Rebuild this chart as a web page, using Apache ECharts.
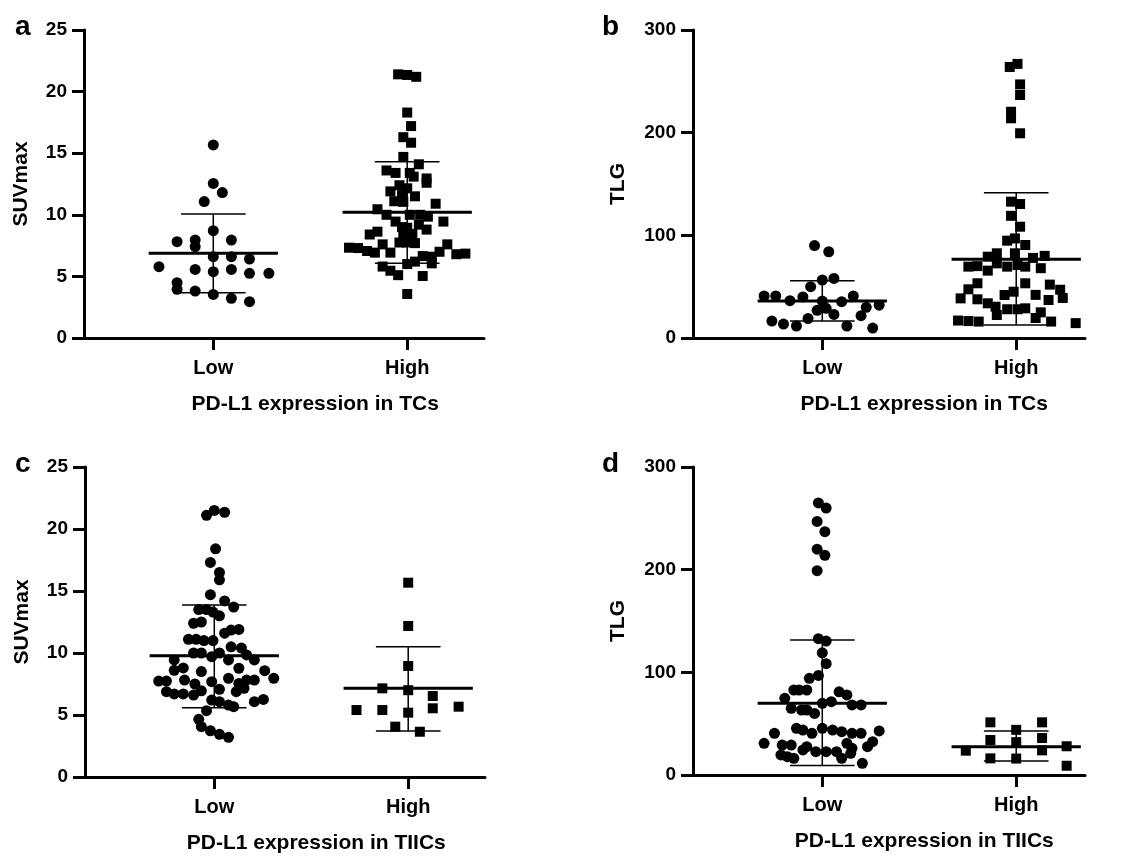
<!DOCTYPE html>
<html>
<head>
<meta charset="utf-8">
<script src="https://cdn.jsdelivr.net/npm/echarts@6/dist/echarts.min.js"></script>
<style>
html, body { margin: 0; background: #fff; }
#chart { width: 1138px; height: 858px; }
</style>
</head>
<body>
<div id="chart"></div>
<script>
// group positions on the x axis and their labels
const groupNames = ['Low', 'High'];
const groupPos = [1, 2.5];

// points as [offset from group centre, value]
const suvTCLow = [
    [0, 15.67], [0, 12.55], [0.07, 11.8], [-0.07, 11.07], [0, 8.71],
    [-0.28, 7.82], [-0.14, 7.95], [-0.14, 7.41], [0.14, 7.95],
    [0, 6.6], [0.14, 6.6], [0.28, 6.41],
    [-0.42, 5.79], [-0.14, 5.57], [0, 5.38], [0.14, 5.57], [0.28, 5.25], [0.43, 5.25],
    [-0.28, 4.49], [-0.28, 3.95], [-0.14, 3.81], [0, 3.54], [0.14, 3.22], [0.28, 2.95]
];
const suvTCHigh = [
    [-0.07, 21.4], [0, 21.35], [0.07, 21.2],
    [0, 18.3], [0.03, 17.2], [-0.03, 16.3], [0.03, 15.85], [-0.03, 14.7],
    [0.09, 14.1], [-0.16, 13.6], [-0.09, 13.4], [0.02, 13.4], [0.05, 13.1], [0.15, 12.95], [0.15, 12.6],
    [-0.06, 12.4], [-0.13, 11.9], [0, 12.15], [-0.04, 11.6], [0.06, 11.5], [-0.1, 11.1], [-0.03, 11.05], [0.22, 10.9],
    [-0.23, 10.45], [-0.16, 10.0], [-0.09, 9.45], [0.02, 10.0], [0.1, 10.0], [0.16, 9.85], [0.28, 9.45], [0.09, 9.2],
    [-0.04, 9.0], [0, 8.95], [0.15, 8.8], [-0.23, 8.63], [-0.29, 8.4], [-0.03, 8.5], [0.04, 8.45],
    [-0.06, 7.75], [0, 7.75], [0.06, 7.7], [-0.19, 7.6], [-0.45, 7.33], [-0.38, 7.3], [-0.31, 7.06],
    [-0.25, 6.93], [-0.13, 6.93],
    [0.31, 7.6], [0.25, 7.0], [0.19, 6.6], [0.12, 6.65], [0.38, 6.8], [0.45, 6.85],
    [0.06, 6.2], [0, 6.0], [-0.19, 5.8], [-0.13, 5.46], [-0.07, 5.1], [0.19, 6.06], [0.12, 5.03], [0, 3.57]
];
const tlgTCLow = [
    [-0.06, 90], [0.05, 84], [0, 56.5], [0.09, 58], [-0.09, 50],
    [-0.45, 40.9], [-0.36, 40.9], [-0.25, 36.4], [-0.15, 40], [0, 36], [0.15, 35.4], [0.24, 40.9],
    [0.44, 32], [0.34, 29.9], [0.03, 28.9], [-0.04, 27], [0.09, 23], [0.3, 21.7],
    [-0.39, 16.5], [-0.3, 13.6], [-0.11, 19], [-0.2, 11.7], [0.19, 11.7], [0.39, 9.7]
];
const tlgTCHigh = [
    [-0.05, 264], [0.01, 267], [0.03, 247], [0.03, 236.7], [-0.04, 220.4], [-0.04, 214], [0.03, 199.4],
    [-0.04, 132.8], [0.03, 130.5], [-0.04, 119], [0.03, 108.4], [-0.07, 94.8], [-0.01, 97], [0.07, 90.6],
    [-0.15, 82.5], [-0.22, 79.2], [-0.01, 82.5], [0.13, 78], [0.22, 80],
    [-0.37, 69.5], [-0.3, 70], [-0.15, 72.7], [-0.07, 69.5], [0.01, 71.1], [0.07, 69.5], [0.19, 68], [-0.22, 65.6],
    [-0.37, 47.4], [-0.3, 53.3], [0.07, 53.3], [0.26, 52], [0.34, 47], [-0.02, 45.1], [-0.09, 41.9], [0.15, 42],
    [-0.43, 38.6], [-0.3, 37.7], [0.25, 37], [0.36, 39], [-0.22, 33.8], [-0.16, 30.5],
    [-0.07, 28], [0.01, 28], [0.07, 28.9], [0.19, 25], [-0.15, 22.4],
    [-0.45, 17], [-0.37, 16.5], [-0.29, 16], [0.15, 19.5], [0.27, 16], [0.46, 14.5]
];
const suvTIICLow = [
    [-0.06, 21.1], [0, 21.5], [0.08, 21.35], [0.01, 18.4], [-0.03, 17.3], [0.04, 16.5], [0.04, 15.9],
    [-0.03, 14.7], [0.08, 14.2], [0.15, 13.7],
    [-0.12, 13.5], [-0.06, 13.5], [-0.01, 13.3], [0.04, 13.0], [-0.16, 12.4], [-0.1, 12.5],
    [0.08, 11.6], [0.13, 11.85], [0.19, 11.9], [-0.2, 11.1], [-0.14, 11.1], [-0.08, 11.0], [-0.01, 11.0],
    [-0.16, 10.0], [-0.1, 10.0], [-0.02, 9.7], [0.04, 10.0], [0.13, 10.5], [0.21, 10.4], [0.25, 9.84],
    [0.31, 9.44], [-0.31, 9.44], [0.11, 9.44],
    [-0.31, 8.6], [-0.24, 8.8], [-0.1, 8.5], [0.19, 8.77], [0.39, 8.57], [0.46, 7.96],
    [-0.43, 7.74], [-0.37, 7.74], [-0.23, 7.82], [-0.15, 7.5], [-0.02, 7.69], [0.11, 7.96],
    [0.19, 7.55], [0.25, 7.82], [0.31, 7.82],
    [-0.37, 6.88], [-0.31, 6.7], [-0.24, 6.7], [-0.16, 6.61], [-0.1, 6.95], [0.04, 7.07], [0.17, 6.88], [0.23, 7.15],
    [-0.02, 6.2], [0.04, 6.07], [0.31, 6.07], [0.38, 6.26], [0.11, 5.8], [0.15, 5.67], [-0.06, 5.35],
    [-0.12, 4.65], [-0.1, 4.06], [-0.03, 3.73], [0.04, 3.44], [0.11, 3.2]
];
const suvTIICHigh = [
    [0, 15.67], [0, 12.18], [0, 8.95], [-0.2, 7.15], [0, 7.0], [0.19, 6.53],
    [-0.4, 5.4], [-0.2, 5.4], [0, 5.19], [0.19, 5.54], [0.39, 5.67], [-0.1, 4.06], [0.09, 3.65]
];
const tlgTIICLow = [
    [-0.03, 265], [0.03, 260], [-0.04, 247], [0.02, 237], [-0.04, 220], [0.02, 214], [-0.04, 199],
    [-0.03, 132.8], [0.03, 130.5], [0, 119], [0.03, 108.4], [-0.03, 97], [-0.1, 94.2],
    [-0.22, 82.8], [-0.18, 82.8], [-0.12, 82.8], [0.13, 81], [0.19, 78],
    [-0.29, 74.7], [0, 69.8], [0.07, 71.4], [0.23, 68.2], [0.3, 68.2],
    [-0.24, 65], [-0.16, 63.3], [-0.12, 63.3], [-0.06, 60],
    [-0.2, 45.5], [-0.15, 43.8], [-0.08, 40.6], [0, 45.5], [0.08, 43.8], [0.15, 42.2], [0.23, 40.6], [0.3, 40.6], [0.44, 42.9],
    [-0.37, 40.6], [-0.45, 30.9], [-0.31, 29.2], [-0.24, 29.2], [-0.15, 24.4],
    [-0.12, 27.6], [-0.05, 22.7], [0.03, 22.7], [0.11, 22.7], [0.19, 30.9], [0.23, 26], [0.22, 21.1],
    [0.39, 32.5], [0.35, 27.6],
    [-0.32, 19.5], [-0.27, 17.8], [-0.22, 16.2], [0.15, 16.2], [0.31, 11.4]
];
const tlgTIICHigh = [
    [-0.39, 23.7], [-0.2, 51.3], [-0.2, 34.1], [-0.2, 16.2], [0, 44], [0, 32], [0, 16],
    [0.2, 51.3], [0.2, 36], [0.2, 24], [0.39, 28], [0.39, 9]
];

// mean, mean - SD, mean + SD for [Low, High]
const suvTCMean = [6.87, 10.2], suvTCLo = [3.68, 6.06], suvTCHi = [10.06, 14.3];
const tlgTCMean = [36, 76.6], tlgTCLo = [16.5, 12.7], tlgTCHi = [55.8, 141.5];
const suvTIICMean = [9.78, 7.15], suvTIICLo = [5.59, 3.7], suvTIICHi = [13.87, 10.5];
const tlgTIICMean = [69.8, 27.6], tlgTIICLo = [9.2, 13.6], tlgTIICHi = [131.5, 42.9];

const yTicksSuv = [0, 25, 5];
const yTicksTlg = [0, 300, 100];

const panels = [
    { letter: 'a', left: 84, top: 30, width: 400, height: 308, xMax: 3.094, yt: yTicksSuv, yName: 'SUVmax', gap: 52,
      xName: 'PD-L1 expression in TCs', pts: [suvTCLow, suvTCHigh], mean: suvTCMean, lo: suvTCLo, hi: suvTCHi },
    { letter: 'b', left: 693, top: 30, width: 392, height: 308, xMax: 3.032, yt: yTicksTlg, yName: 'TLG', gap: 64,
      xName: 'PD-L1 expression in TCs', pts: [tlgTCLow, tlgTCHigh], mean: tlgTCMean, lo: tlgTCLo, hi: tlgTCHi },
    { letter: 'c', left: 85, top: 467, width: 400, height: 310, xMax: 3.094, yt: yTicksSuv, yName: 'SUVmax', gap: 52,
      xName: 'PD-L1 expression in TIICs', pts: [suvTIICLow, suvTIICHigh], mean: suvTIICMean, lo: suvTIICLo, hi: suvTIICHi },
    { letter: 'd', left: 693, top: 467, width: 392, height: 308, xMax: 3.032, yt: yTicksTlg, yName: 'TLG', gap: 64,
      xName: 'PD-L1 expression in TIICs', pts: [tlgTIICLow, tlgTIICHigh], mean: tlgTIICMean, lo: tlgTIICLo, hi: tlgTIICHi }
];

const font = 'Liberation Sans, Arial, sans-serif';
const grids = [], xAxes = [], yAxes = [], series = [], titles = [];

function seg(i, a, b, w) {
    return {
        type: 'line', xAxisIndex: i, yAxisIndex: i, data: [a, b],
        symbol: 'none', silent: true, z: 5, animation: false,
        lineStyle: { color: '#000', width: w }
    };
}

panels.forEach((p, i) => {
    grids.push({ left: p.left, top: p.top, width: p.width, height: p.height });
    xAxes.push({
        type: 'value', gridIndex: i, min: 0, max: p.xMax,
        axisLine: { lineStyle: { color: '#000', width: 3 } },
        axisTick: { customValues: groupPos, length: 12, lineStyle: { color: '#000', width: 3 } },
        axisLabel: {
            customValues: groupPos, margin: 20, color: '#000', fontSize: 20, fontWeight: 'bold', fontFamily: font,
            formatter: v => groupNames[groupPos.indexOf(v)]
        },
        splitLine: { show: false }
    });
    yAxes.push({
        type: 'value', gridIndex: i, min: p.yt[0], max: p.yt[1], interval: p.yt[2],
        name: p.yName, nameLocation: 'middle', nameGap: p.gap,
        nameTextStyle: { color: '#000', fontSize: 21, fontWeight: 'bold', fontFamily: font },
        axisLine: { show: true, lineStyle: { color: '#000', width: 3 } },
        axisTick: { show: true, length: 12, lineStyle: { color: '#000', width: 3 } },
        axisLabel: { margin: 17, color: '#000', fontSize: 19, fontWeight: 'bold', fontFamily: font },
        splitLine: { show: false }
    });
    // panel letter
    titles.push({
        text: p.letter, left: i % 2 ? 597 : 10, top: p.top - 22,
        textStyle: { color: '#000', fontSize: 28, fontWeight: 'bold', fontFamily: font }
    });
    // x axis title, centred under the two groups
    titles.push({
        text: p.xName, textAlign: 'center',
        left: p.left + (groupPos[0] + groupPos[1]) / 2 * p.width / p.xMax,
        top: p.top + p.height + 51,
        textStyle: { color: '#000', fontSize: 21, fontWeight: 'bold', fontFamily: font }
    });
    p.pts.forEach((arr, g) => {
        const c = groupPos[g];
        series.push({
            type: 'scatter', xAxisIndex: i, yAxisIndex: i,
            symbol: g === 0 ? 'circle' : 'rect', symbolSize: g === 0 ? 11 : 10,
            itemStyle: { color: '#000', opacity: 1 }, animation: false,
            data: arr.map(d => [c + d[0], d[1]])
        });
        series.push(seg(i, [c - 0.5, p.mean[g]], [c + 0.5, p.mean[g]], 3));
        series.push(seg(i, [c, p.lo[g]], [c, p.hi[g]], 1.5));
        series.push(seg(i, [c - 0.25, p.lo[g]], [c + 0.25, p.lo[g]], 1.5));
        series.push(seg(i, [c - 0.25, p.hi[g]], [c + 0.25, p.hi[g]], 1.5));
    });
});

const chart = echarts.init(document.getElementById('chart'));
chart.setOption({
    backgroundColor: '#fff',
    title: titles,
    grid: grids,
    xAxis: xAxes,
    yAxis: yAxes,
    series: series
});
</script>
</body>
</html>
